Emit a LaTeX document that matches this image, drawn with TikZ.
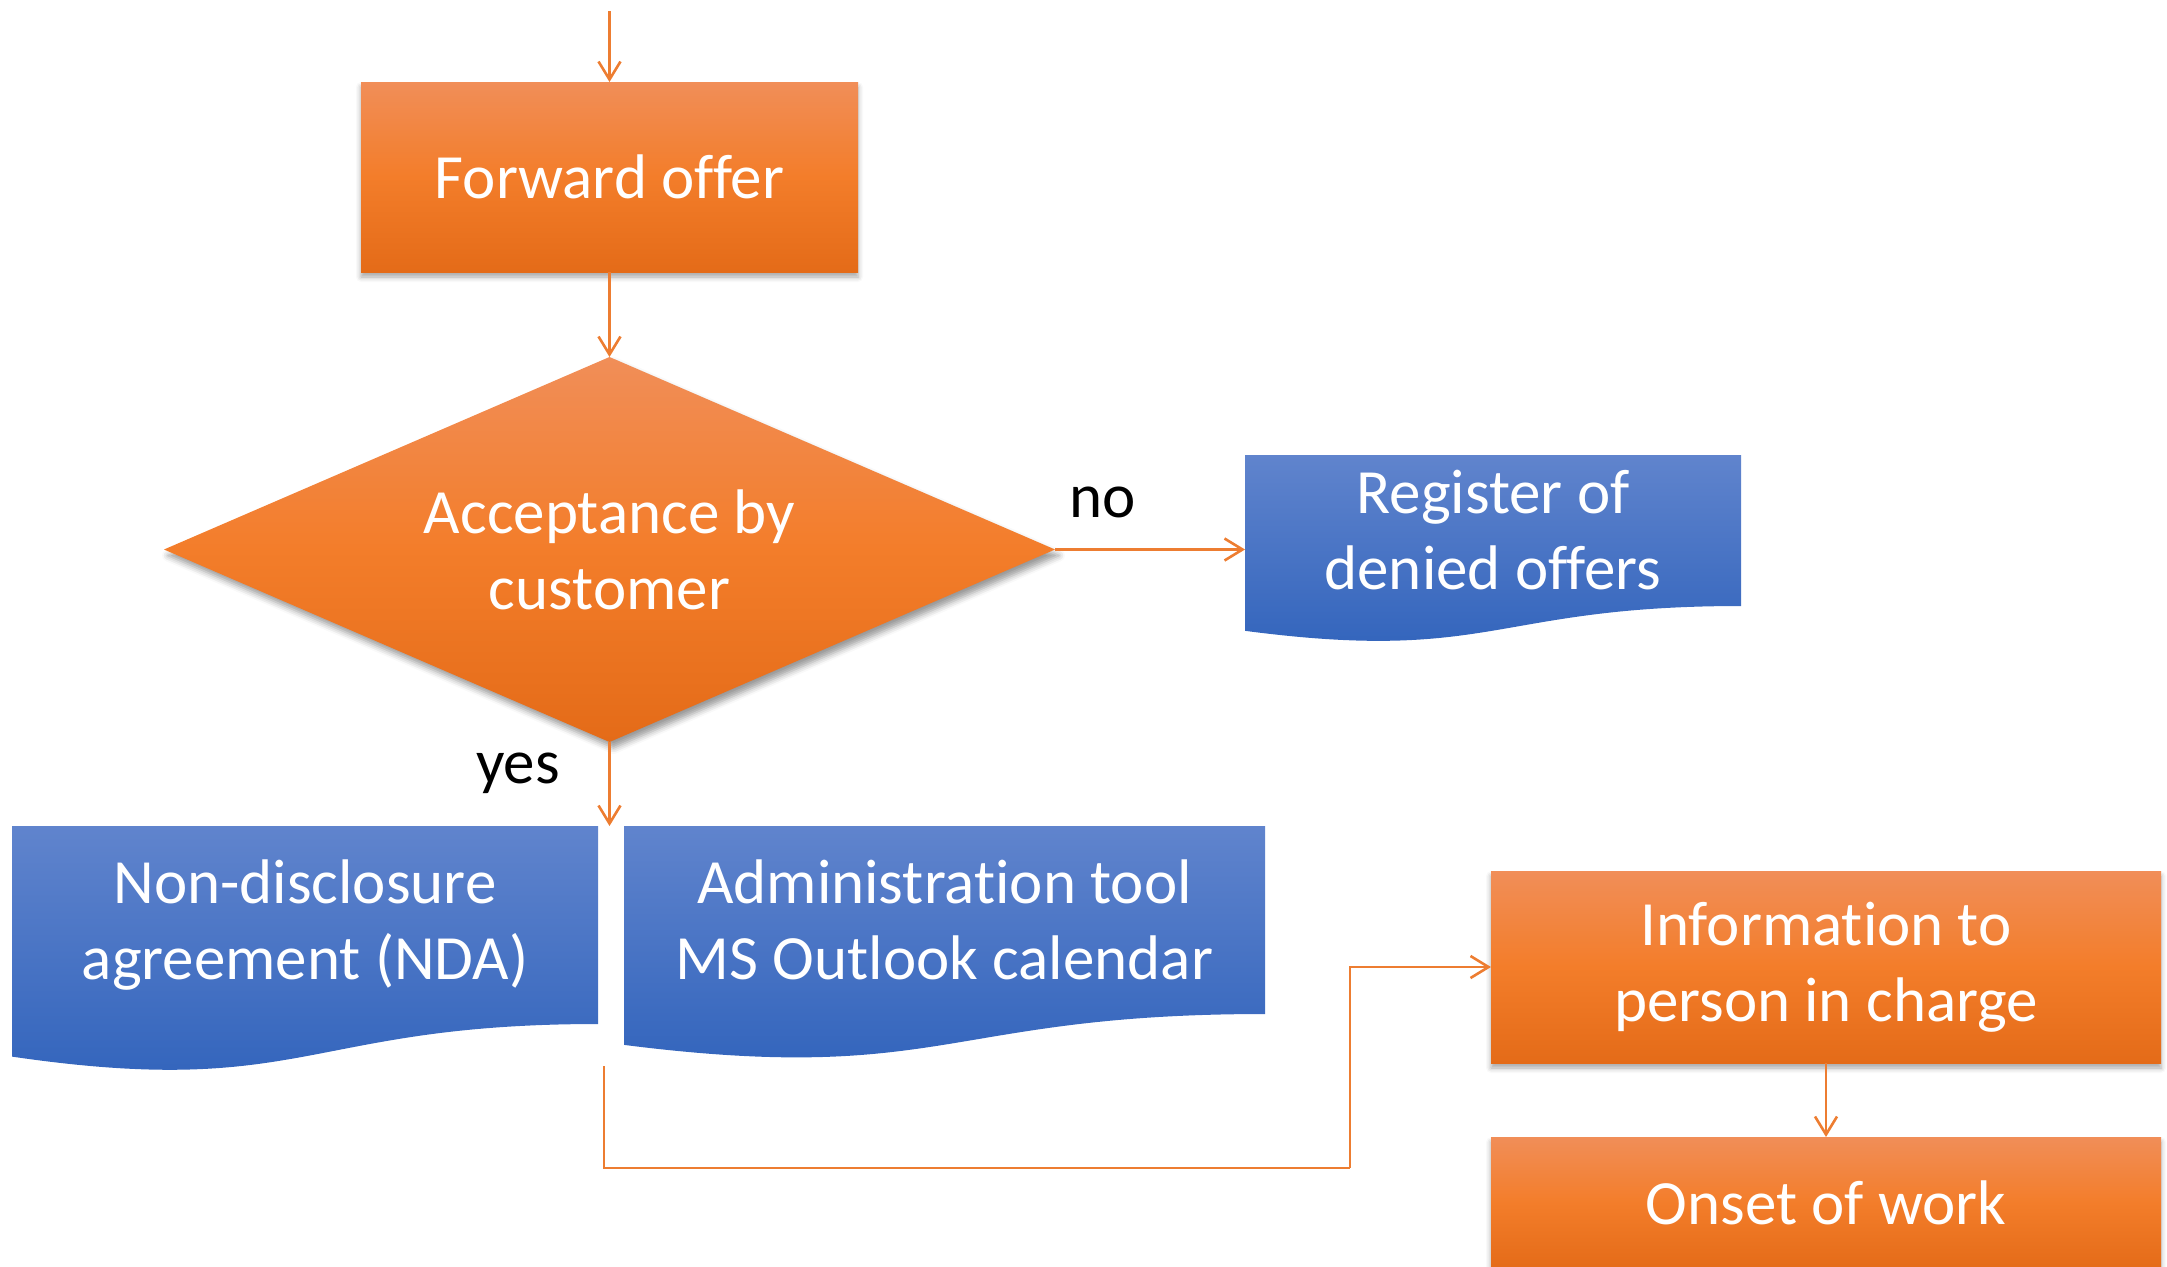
\documentclass[tikz,border=0pt]{standalone}
\usepackage{fontspec}
\setmainfont{Carlito}[Ligatures=NoCommon]
\usetikzlibrary{shapes.geometric,arrows.meta,calc,shadows.blur}
\pgfdeclarelayer{background}
\pgfsetlayers{background,main}
\definecolor{orT}{RGB}{241,142,88}
\definecolor{orM}{RGB}{243,125,42}
\definecolor{orB}{RGB}{228,107,24}
\definecolor{blT}{RGB}{96,132,205}
\definecolor{blB}{RGB}{47,98,187}
\definecolor{connc}{RGB}{237,125,49}
\tikzset{
  big/.style={font=\fontsize{63}{76}\selectfont},
  orshade/.style={top color=orT, bottom color=orB, middle color=orM},
  orbox/.style={big, text=white, rectangle, inner sep=0pt, outer sep=0pt, align=center, orshade,
    blur shadow={shadow xshift=0pt, shadow yshift=-5pt, shadow opacity=35, shadow blur radius=5pt}},
  decision/.style={big, text=white, diamond, aspect=2.314, inner sep=0pt, outer sep=0pt, align=center, orshade,
    minimum width=891pt, minimum height=385pt,
    blur shadow={shadow xshift=4pt, shadow yshift=-6pt, shadow opacity=40, shadow blur radius=6pt}},
  docnode/.style={big, text=white, rectangle, inner sep=0pt, outer sep=0pt, align=center},
  docfill/.style={top color=blT, bottom color=blB},
  lbl/.style={big, text=black, inner sep=0pt},
  conn/.style={draw=connc, line width=2.6pt, -{Straight Barb[length=18pt,width=22pt,line width=2.6pt]}},
  connplain/.style={draw=connc, line width=2.6pt},
}
\newcommand\docpath[2]{%
  \path[docfill] (#1.north west) -- (#1.north east) -- (#1.south east)
    .. controls (#1.south) and ($(#1.south)+(0,{0.3055*#2})$) ..
    ($(#1.south west)+(0,{0.132*#2})$) -- cycle;}
\begin{document}
\begin{tikzpicture}[x=1pt,y=-1pt]
\useasboundingbox (0,0) rectangle (2167,1266);
% nodes
\coordinate (start) at (609.5,11);
\node[orbox, minimum width=497pt, minimum height=190pt] (fwd) at (609.5,177) {Forward offer};
\node[decision] (dia) at (609.5,549.5) {Acceptance by\\customer};
\node[docnode, minimum width=496pt, minimum height=151pt] (reg) at (1493,530.5) {Register of\\denied offers};
\node[docnode, minimum width=586pt, minimum height=198pt] (nda) at (305,925) {Non-disclosure\\agreement (NDA)};
\node[docnode, minimum width=641pt, minimum height=188pt] (adm) at (944.5,920) {Administration tool\\MS Outlook calendar};
\node[orbox, minimum width=670pt, minimum height=192pt] (info) at (1826,967) {Information to\\person in charge};
\node[orbox, minimum width=670pt, minimum height=132pt] (onset) at (1826,1203) {Onset of work};
\node[lbl] (no) at (1103,502) {no};
\node[lbl] (yes) at (518,773) {yes};
\coordinate (c1) at (604,1066);
\coordinate (c2) at (1350,1168);
% document shapes
\begin{pgfonlayer}{background}
\docpath{reg}{188}
\docpath{nda}{247}
\docpath{adm}{234}
\end{pgfonlayer}
% connectors
\draw[conn] (start) -- (fwd.north);
\draw[conn] (fwd.south) -- (dia.north);
\draw[conn] (dia.east) -- (dia.east -| reg.west);
\draw[conn] (dia.south) -- (dia.south |- nda.north);
\draw[connplain] (c1) |- (c2);
\draw[conn] (c2) |- (info.west);
\draw[conn] (info.south) -- (onset.north);
\end{tikzpicture}
\end{document}
